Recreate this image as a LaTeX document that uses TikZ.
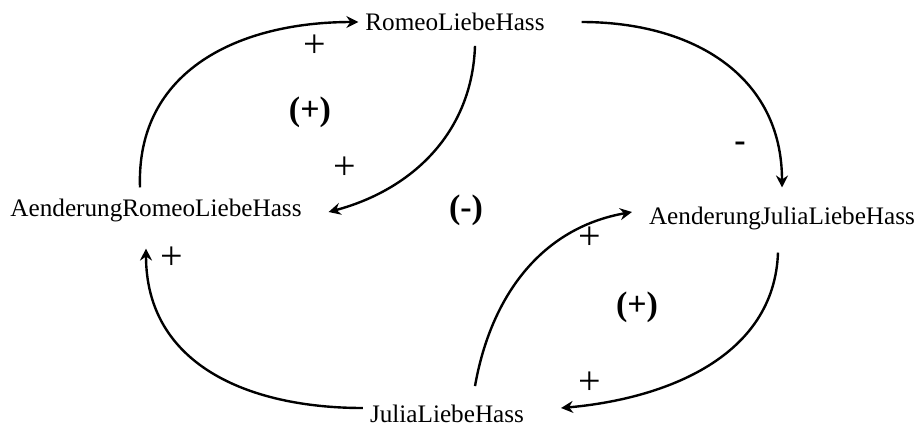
\documentclass[tikz,border=0pt]{standalone}
\usepackage{fontspec}
\setmainfont{Liberation Serif}
\usetikzlibrary{arrows.meta}
\begin{document}
\begin{tikzpicture}[x=0.5pt, y=-0.5pt, var/.style={font=\fontsize{12.6}{14}\selectfont}, pol/.style={font=\fontsize{20}{22}\selectfont, inner sep=0pt}, loopsign/.style={font=\bfseries\fontsize{17}{19}\selectfont, inner sep=0pt}, link/.style={-{Stealth[length=6pt, width=6pt, inset=2pt]}, line width=1.2pt}]
		\useasboundingbox (0,0) rectangle (915,425);
		\node[var] (romeo) at (455, 22) {RomeoLiebeHass};
		\node[var] (arom) at (156, 210) {AenderungRomeoLiebeHass};
		\node[var] (ajul) at (782, 218) {AenderungJuliaLiebeHass};
		\node[var] (julia) at (447, 414) {JuliaLiebeHass};
		% Romeo loop
		\draw[link] ([xshift=-8pt, yshift=2pt]arom.north) to[out=92, in=180, looseness=1.1] (romeo.west);
		\draw[link] ([xshift=10pt, yshift=-4pt]romeo.south) to[out=-92, in=15] ([xshift=10pt, yshift=-1pt]arom.east);
		% Julia loop
		\draw[link] ([xshift=14pt, yshift=6pt]julia.north) to[out=80, in=190] ([xshift=-5pt, yshift=3pt]ajul.west);
		\draw[link] ([xshift=-2pt, yshift=-8pt]ajul.south) to[out=-92, in=5] ([xshift=15pt, yshift=3pt]julia.east);
		% cross links
		\draw[link] ([xshift=15pt]romeo.east) to[out=0, in=90, looseness=1.1] ([yshift=6pt]ajul.north);
		\draw[link] ([yshift=3pt]julia.west) to[out=180, in=-90, looseness=1.1] ([xshift=-5pt, yshift=-10pt]arom.south);
		% polarities
		\node[pol] (s1) at (315, 46) {+};
		\node[pol] (s2) at (345, 168) {+};
		\node[pol] (s3) at (590, 238) {+};
		\node[pol] (s4) at (590, 383) {+};
		\node[pol] (s5) at (172, 258) {+};
		\node[loopsign] (s6) at (740, 147) {-};
		\node[loopsign] (l1) at (310, 112) {(+)};
		\node[loopsign] (l2) at (466, 210) {(-)};
		\node[loopsign] (l3) at (637, 307) {(+)};
	\end{tikzpicture}
\end{document}
